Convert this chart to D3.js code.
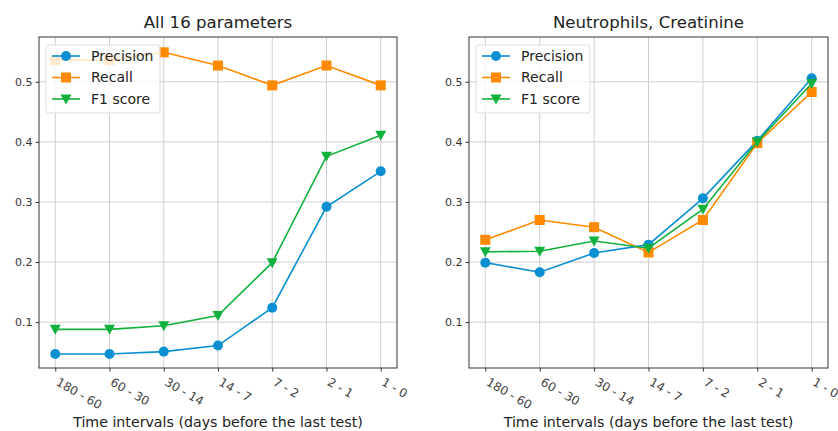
<!DOCTYPE html>
<html>
<head>
<meta charset="utf-8">
<script src="https://cdn.jsdelivr.net/npm/d3@7"></script>
<style>
  body { margin: 0; background: #fff; }
  svg { font-family: "DejaVu Sans", sans-serif; }
</style>
</head>
<body>
<svg id="chart" width="838" height="431"></svg>
<script>
// x categories and y ticks
const intervals = ["180 - 60", "60 - 30", "30 - 14", "14 - 7", "7 - 2", "2 - 1", "1 - 0"];
const yTicks = [0.1, 0.2, 0.3, 0.4, 0.5];

// All 16 parameters
const allPrecision = [0.047, 0.047, 0.051, 0.061, 0.124, 0.292, 0.351];
const allRecall    = [0.536, 0.536, 0.549, 0.527, 0.494, 0.527, 0.494];
const allF1        = [0.088, 0.088, 0.094, 0.111, 0.199, 0.376, 0.411];

// Neutrophils, Creatinine
const ncPrecision = [0.199, 0.183, 0.215, 0.229, 0.306, 0.402, 0.506];
const ncRecall    = [0.237, 0.270, 0.258, 0.216, 0.270, 0.398, 0.483];
const ncF1        = [0.217, 0.218, 0.235, 0.223, 0.288, 0.400, 0.497];

const seriesNames = ["Precision", "Recall", "F1 score"];
const colors = ["#0a8fd2", "#ff8a00", "#12b03c"];
const markers = ["circle", "square", "triangle"];

const panels = [
    {title: "All 16 parameters", left: 39, right: 397, data: [allPrecision, allRecall, allF1]},
    {title: "Neutrophils, Creatinine", left: 469, right: 828, data: [ncPrecision, ncRecall, ncF1]}
];

const plotTop = 37, plotBottom = 368;
const svg = d3.select("#chart");

function drawMarker(g, kind, x, y, color) {
    if (kind == "circle") {
        g.append("circle").attr("cx", x).attr("cy", y).attr("r", 5).attr("fill", color);
    } else if (kind == "square") {
        g.append("rect").attr("x", x - 5).attr("y", y - 5).attr("width", 10).attr("height", 10).attr("fill", color);
    } else {
        g.append("path").attr("d", `M${x - 5.5},${y - 4.5}L${x + 5.5},${y - 4.5}L${x},${y + 5.5}Z`).attr("fill", color);
    }
}

for (let p of panels) {
    let x = d3.scalePoint().domain(intervals).range([p.left, p.right]).padding(0.3);
    let y = d3.scaleLinear().domain([0.0237, 0.5745]).range([plotBottom, plotTop]);
    let g = svg.append("g");

    // grid
    g.append("g").selectAll("line").data(intervals).join("line")
        .attr("x1", d => x(d)).attr("x2", d => x(d)).attr("y1", plotTop).attr("y2", plotBottom)
        .attr("stroke", "#cfcfcf").attr("stroke-width", 1);
    g.append("g").selectAll("line").data(yTicks).join("line")
        .attr("x1", p.left).attr("x2", p.right).attr("y1", d => y(d)).attr("y2", d => y(d))
        .attr("stroke", "#cfcfcf").attr("stroke-width", 1);

    // axes
    let yAxis = g.append("g").attr("transform", `translate(${p.left},0)`)
        .call(d3.axisLeft(y).tickValues(yTicks).tickFormat(d3.format(".1f")).tickSize(3.5).tickSizeOuter(0));
    yAxis.select(".domain").remove();
    yAxis.selectAll("text").attr("font-size", 11).attr("fill", "#333").attr("font-family", "DejaVu Sans");
    yAxis.selectAll("line").attr("stroke", "#333");

    let xAxis = g.append("g").attr("transform", `translate(0,${plotBottom})`)
        .call(d3.axisBottom(x).tickSize(3.5).tickSizeOuter(0));
    xAxis.select(".domain").remove();
    xAxis.selectAll("line").attr("stroke", "#333");
    xAxis.selectAll("text")
        .attr("font-size", 12).attr("fill", "#444").attr("font-family", "DejaVu Sans")
        .attr("text-anchor", "start").attr("dy", null).attr("y", 0)
        .attr("transform", "translate(4,9) rotate(30)")
        .attr("dominant-baseline", "hanging");

    g.append("rect").attr("x", p.left).attr("y", plotTop)
        .attr("width", p.right - p.left).attr("height", plotBottom - plotTop)
        .attr("fill", "none").attr("stroke", "#333").attr("stroke-width", 1);

    // series
    let line = d3.line().x((d, i) => x(intervals[i])).y(d => y(d));
    p.data.forEach((vals, s) => {
        let sg = g.append("g");
        sg.append("path").attr("d", line(vals)).attr("fill", "none")
            .attr("stroke", colors[s]).attr("stroke-width", 1.6);
        vals.forEach((v, i) => drawMarker(sg, markers[s], x(intervals[i]), y(v), colors[s]));
    });

    // legend
    let lg = g.append("g").attr("transform", `translate(${p.left + 7},${plotTop + 8})`);
    lg.append("rect").attr("x", 0).attr("y", 0).attr("width", 114).attr("height", 68)
        .attr("rx", 3).attr("fill", "rgba(255,255,255,0.8)").attr("stroke", "#ddd");
    seriesNames.forEach((name, s) => {
        let yy = 11 + s * 21.5;
        lg.append("line").attr("x1", 6).attr("x2", 34).attr("y1", yy).attr("y2", yy)
            .attr("stroke", colors[s]).attr("stroke-width", 1.6);
        drawMarker(lg, markers[s], 20, yy, colors[s]);
        lg.append("text").attr("x", 45).attr("y", yy).attr("dy", "0.35em")
            .attr("font-size", 14).attr("fill", "#222").text(name);
    });

    // title and x label
    g.append("text").attr("x", (p.left + p.right) / 2).attr("y", 28)
        .attr("text-anchor", "middle").attr("font-size", 16.6).attr("fill", "#222").text(p.title);
    g.append("text").attr("x", (p.left + p.right) / 2).attr("y", 427)
        .attr("text-anchor", "middle").attr("font-size", 14.2).attr("fill", "#222")
        .text("Time intervals (days before the last test)");
}
</script>
</body>
</html>
